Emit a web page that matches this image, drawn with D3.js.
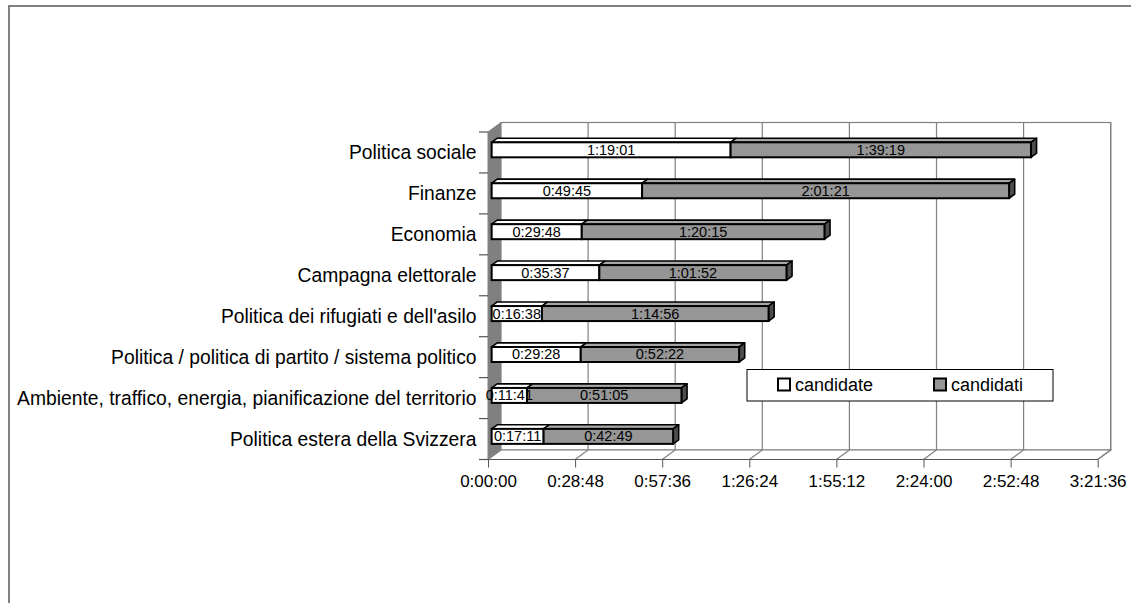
<!DOCTYPE html>
<html>
<head>
<meta charset="utf-8">
<script src="https://cdn.jsdelivr.net/npm/d3@7/dist/d3.min.js"></script>
<style>
  body { margin:0; background:#fff; }
  svg { display:block; font-family:"Liberation Sans", Arial, sans-serif; }
</style>
</head>
<body>
<div id="chart"></div>
<script>
// --- data ---
const categories = [
  "Politica sociale",
  "Finanze",
  "Economia",
  "Campagna elettorale",
  "Politica dei rifugiati e dell'asilo",
  "Politica / politica di partito / sistema politico",
  "Ambiente, traffico, energia, pianificazione del territorio",
  "Politica estera della Svizzera"
];
const candidate = ["1:19:01", "0:49:45", "0:29:48", "0:35:37", "0:16:38", "0:29:28", "0:11:41", "0:17:11"];
const candidati = ["1:39:19", "2:01:21", "1:20:15", "1:01:52", "1:14:56", "0:52:22", "0:51:05", "0:42:49"];
const tickLabels = ["0:00:00", "0:28:48", "0:57:36", "1:26:24", "1:55:12", "2:24:00", "2:52:48", "3:21:36"];
const seriesNames = ["candidate", "candidati"];

// h:mm:ss -> seconds
const toSec = s => s.split(":").map(Number).reduce((a, b) => a * 60 + b, 0);

const W = 1131, H = 603;
const svg = d3.select("#chart").append("svg").attr("width", W).attr("height", H);

// chart area frame
svg.append("rect")
  .attr("x", 9).attr("y", 6).attr("width", 1140).attr("height", 620)
  .attr("fill", "#fff").attr("stroke", "#808080").attr("stroke-width", 2);

// --- 3D geometry ---
const front = { x0: 488, x1: 1097.7, yTop: 132, yBot: 459.5 };
const depth = { dx: 13, dy: -9.5 };

const x = d3.scaleLinear().domain([0, toSec(tickLabels[tickLabels.length - 1])])
  .range([front.x0, front.x1]);
const y = d3.scaleBand().domain(categories).range([front.yTop, front.yBot]).padding(0);

const g = svg.append("g");

// left side wall
g.append("polygon")
  .attr("points", [
    [front.x0, front.yTop], [front.x0 + depth.dx, front.yTop + depth.dy],
    [front.x0 + depth.dx, front.yBot + depth.dy], [front.x0, front.yBot]
  ].join(" "))
  .attr("fill", "#808080").attr("stroke", "#808080");

// back wall
g.append("rect")
  .attr("x", front.x0 + depth.dx).attr("y", front.yTop + depth.dy)
  .attr("width", front.x1 - front.x0).attr("height", front.yBot - front.yTop)
  .attr("fill", "#fff").attr("stroke", "#808080").attr("stroke-width", 1.2);

// floor
g.append("polygon")
  .attr("points", [
    [front.x0, front.yBot], [front.x1, front.yBot],
    [front.x1 + depth.dx, front.yBot + depth.dy], [front.x0 + depth.dx, front.yBot + depth.dy]
  ].join(" "))
  .attr("fill", "#fff").attr("stroke", "#808080").attr("stroke-width", 1.2);

const tickSecs = tickLabels.map(toSec);

// gridlines: floor diagonal + back wall vertical
g.selectAll("path.grid")
  .data(tickSecs.slice(1))
  .join("path")
  .attr("class", "grid")
  .attr("d", d => `M${x(d)},${front.yBot}L${x(d) + depth.dx},${front.yBot + depth.dy}V${front.yTop + depth.dy}`)
  .attr("fill", "none").attr("stroke", "#808080").attr("stroke-width", 1.2);

// x axis
const xAxis = d3.axisBottom(x)
  .tickValues(tickSecs)
  .tickFormat((d, i) => tickLabels[i])
  .tickSize(8).tickPadding(7);
const ax = g.append("g").attr("transform", `translate(0,${front.yBot})`).call(xAxis);
ax.select(".domain").remove();
ax.selectAll(".tick line").attr("stroke", "#555");
ax.selectAll(".tick text")
  .attr("font-family", "Liberation Sans, Arial, sans-serif")
  .attr("font-size", 17).attr("fill", "#000");
g.append("line")
  .attr("x1", 479).attr("x2", front.x1)
  .attr("y1", front.yBot).attr("y2", front.yBot)
  .attr("stroke", "#555").attr("stroke-width", 1.2);

// category ticks at band boundaries
g.selectAll("line.ctick")
  .data(d3.range(categories.length + 1))
  .join("line")
  .attr("class", "ctick")
  .attr("x1", 479).attr("x2", front.x0)
  .attr("y1", i => front.yTop + i * y.bandwidth())
  .attr("y2", i => front.yTop + i * y.bandwidth())
  .attr("stroke", "#555").attr("stroke-width", 1.2);

// category labels
g.selectAll("text.cat")
  .data(categories)
  .join("text")
  .attr("class", "cat")
  .attr("x", 476.5)
  .attr("y", d => y(d) + y.bandwidth() / 2 + 7)
  .attr("text-anchor", "end")
  .attr("font-size", 19.3)
  .attr("fill", "#000")
  .text(d => d);

// --- stacked 3D bars ---
const barH = 15;
const bf = 0.28, bb = 0.43; // bar front offset & bar depth, as fraction of wall depth
const offX = depth.dx * bf, offY = depth.dy * bf;
const bdx = depth.dx * bb, bdy = depth.dy * bb;
const x0px = x(0);

const rows = categories.map((c, i) => {
  const a = toSec(candidate[i]), b = toSec(candidati[i]);
  const yc = y(c) + y.bandwidth() / 2 + offY;
  return {
    cat: c, yTop: yc - barH / 2, yBot: yc + barH / 2,
    segs: [
      { s: 0, x0: x(0) + offX, x1: x(a) + offX, label: candidate[i] },
      { s: 1, x0: x(a) + offX, x1: x(a + b) + offX, label: candidati[i] }
    ]
  };
});

const fills = ["#ffffff", "#969696"];
const tops = ["#ffffff", "#a6a6a6"];
const sides = ["#d0d0d0", "#4d4d4d"];

const bars = g.selectAll("g.bar").data(rows).join("g").attr("class", "bar");

bars.each(function (r) {
  const bg = d3.select(this);
  // top faces
  bg.selectAll("polygon.top").data(r.segs).join("polygon")
    .attr("class", "top")
    .attr("points", d => [
      [d.x0, r.yTop], [d.x1, r.yTop], [d.x1 + bdx, r.yTop + bdy], [d.x0 + bdx, r.yTop + bdy]
    ].join(" "))
    .attr("fill", d => tops[d.s]).attr("stroke", "#000").attr("stroke-width", 1.6)
    .attr("stroke-linejoin", "round");
  // right face of the stack
  const last = r.segs[r.segs.length - 1];
  bg.append("polygon")
    .attr("points", [
      [last.x1, r.yTop], [last.x1 + bdx, r.yTop + bdy], [last.x1 + bdx, r.yBot + bdy], [last.x1, r.yBot]
    ].join(" "))
    .attr("fill", sides[last.s]).attr("stroke", "#000").attr("stroke-width", 1.6)
    .attr("stroke-linejoin", "round");
  // front faces
  bg.selectAll("rect.front").data(r.segs).join("rect")
    .attr("class", "front")
    .attr("x", d => d.x0).attr("y", r.yTop)
    .attr("width", d => d.x1 - d.x0).attr("height", barH)
    .attr("fill", d => fills[d.s]).attr("stroke", "#000").attr("stroke-width", 2);
  // value labels
  bg.selectAll("text.val").data(r.segs).join("text")
    .attr("class", "val")
    .attr("x", d => (d.x0 + d.x1) / 2)
    .attr("y", (r.yTop + r.yBot) / 2 + 5)
    .attr("text-anchor", "middle")
    .attr("font-size", 14.5)
    .attr("fill", "#000")
    .text(d => d.label);
});

// --- legend ---
const lg = svg.append("g");
lg.append("rect")
  .attr("x", 747).attr("y", 369.5).attr("width", 306).attr("height", 31.5)
  .attr("fill", "#fff").attr("stroke", "#000").attr("stroke-width", 1);
const legendX = d3.scalePoint().domain(seriesNames).range([778, 934]);
const items = lg.selectAll("g.item").data(seriesNames).join("g").attr("class", "item")
  .attr("transform", d => `translate(${legendX(d)},378.5)`);
items.append("rect")
  .attr("width", 12).attr("height", 12)
  .attr("fill", (d, i) => fills[i]).attr("stroke", "#000").attr("stroke-width", 2);
items.append("text")
  .attr("x", 17).attr("y", 12.5)
  .attr("font-size", 18).attr("fill", "#000")
  .text(d => d);
</script>
</body>
</html>
